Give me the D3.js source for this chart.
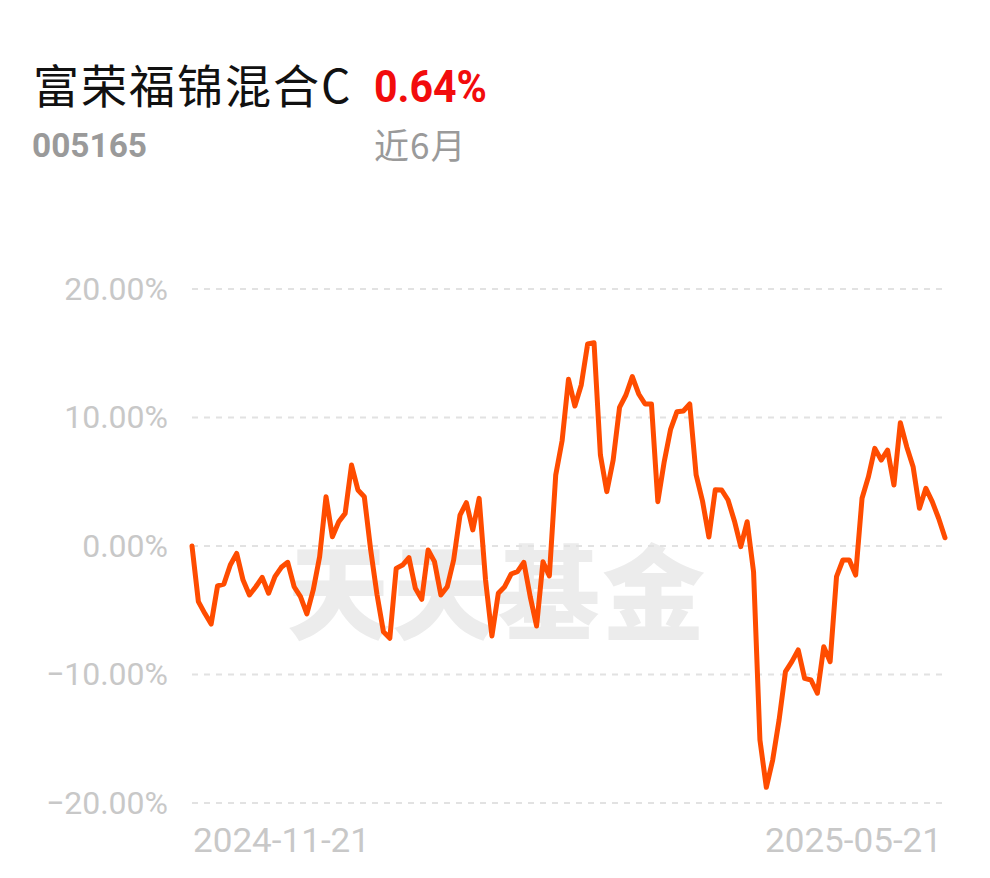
<!DOCTYPE html>
<html><head><meta charset="utf-8">
<script src="https://cdn.jsdelivr.net/npm/d3@7"></script>
<style>
html,body{margin:0;padding:0;background:#fff;}
svg{display:block;}
</style></head>
<body>
<svg id="c" width="990" height="878"></svg>
<script>
const fundName = "富荣福锦混合C";
const fundCode = "005165";
const periodReturn = "0.64%";
const periodLabel = "近6月";
const watermark = "天天基金";
const yTicks = [20, 10, 0, -10, -20];
const xTickLabels = ["2024-11-21", "2025-05-21"];
const returns = [
  0, -4.33, -5.24, -6.07, -3.11, -2.96, -1.48, -0.57, -2.65, -3.81,
  -3.17, -2.44, -3.68, -2.39, -1.66, -1.27, -3.17, -3.94, -5.29, -3.42,
  -0.83, 3.84, 0.72, 1.89, 2.54, 6.30, 4.36, 3.84, -0.3, -3.8,
  -6.67, -7.18, -1.74, -1.48, -0.91, -3.29, -4.15, -0.31, -1.22, -3.81,
  -3.17, -1.09, 2.41, 3.37, 1.25, 3.71, -2.65, -7.0, -3.68, -3.17,
  -2.18, -2.0, -1.27, -3.94, -6.23, -1.22, -2.33, 5.53, 8.2, 12.97,
  10.89, 12.53, 15.72, 15.82, 7.08, 4.23, 6.69, 10.79, 11.75, 13.18,
  11.83, 11.05, 11.05, 3.45, 6.56, 9.08, 10.45, 10.51, 11.05, 5.53,
  3.5, 0.7, 4.38, 4.36, 3.58, 1.95, -0.05, 1.89, -2.0, -15.1,
  -18.78, -16.65, -13.54, -9.78, -9.0, -8.09, -10.3, -10.43, -11.46, -7.84,
  -9.0, -2.39, -1.09, -1.09, -2.26, 3.71, 5.39, 7.6, 6.69, 7.47,
  4.75, 9.6, 7.73, 6.17, 2.93, 4.49, 3.45, 2.16, 0.64
];

(function () {
const svg = d3.select("#c");
const pL = 192, pR = 945, pT = 289, pB = 803;
const x = d3.scaleLinear().domain([0, returns.length - 1]).range([pL, pR]);
const y = d3.scaleLinear().domain([-20, 20]).range([pB, pT]);

// Header
svg.append("text").attr("x", 33).attr("y", 103)
  .attr("font-family", "'Noto Sans CJK SC', sans-serif").attr("font-size", 46)
  .attr("letter-spacing", 2)
  .attr("fill", "#111").text(fundName);
svg.append("text").attr("x", 374).attr("y", 102)
  .attr("font-family", "Roboto, sans-serif").attr("font-weight", 700).attr("font-size", 44)
  .attr("textLength", 113).attr("lengthAdjust", "spacingAndGlyphs")
  .attr("fill", "#f20c0c").text(periodReturn);
svg.append("text").attr("x", 32).attr("y", 157)
  .attr("font-family", "Roboto, sans-serif").attr("font-weight", 700).attr("font-size", 33)
  .attr("textLength", 115).attr("lengthAdjust", "spacingAndGlyphs")
  .attr("fill", "#9a9a9a").text(fundCode);
svg.append("text").attr("x", 374).attr("y", 159)
  .attr("font-family", "'Noto Sans CJK SC', sans-serif").attr("font-size", 35)
  .attr("letter-spacing", 1)
  .attr("fill", "#9a9a9a").text(periodLabel);

// Watermark
svg.append("text").attr("x", 497).attr("y", 632)
  .attr("text-anchor", "middle")
  .attr("font-family", "'Noto Sans CJK SC', sans-serif").attr("font-weight", 900)
  .attr("font-size", 103).attr("letter-spacing", 2)
  .attr("fill", "#ececec").text(watermark);

// Grid
svg.append("g").selectAll("line").data(yTicks).join("line")
  .attr("x1", pL).attr("x2", pR + 1)
  .attr("y1", d => y(d)).attr("y2", d => y(d))
  .attr("stroke", "#e2e2e2").attr("stroke-width", 2)
  .attr("stroke-dasharray", "6,6");

// Y axis labels
const yAxis = d3.axisLeft(y).tickValues(yTicks).tickSize(0).tickPadding(24)
  .tickFormat(d => d3.format(".2f")(d) + "%");
const gy = svg.append("g").attr("transform", `translate(${pL},0)`).call(yAxis);
gy.select(".domain").remove();
gy.selectAll("text").attr("font-family", "Roboto, sans-serif").attr("font-size", 32)
  .attr("fill", "#c8c8c8");

// X labels
const xTicks = [0, returns.length - 1];
svg.append("g").selectAll("text").data(xTicks).join("text")
  .attr("x", (d, i) => i === 0 ? x(d) + 1 : x(d) - 3)
  .attr("y", 852)
  .attr("text-anchor", (d, i) => i === 0 ? "start" : "end")
  .attr("font-family", "Roboto, sans-serif").attr("font-size", 34)
  .attr("textLength", 177).attr("lengthAdjust", "spacingAndGlyphs")
  .attr("fill", "#c8c8c8")
  .text((d, i) => xTickLabels[i]);

// Line
const line = d3.line().x((d, i) => x(i)).y(d => y(d));
svg.append("path").datum(returns)
  .attr("d", line).attr("fill", "none")
  .attr("stroke", "#ff4c00").attr("stroke-width", 5)
  .attr("stroke-linejoin", "round").attr("stroke-linecap", "round");
})();
</script>
</body></html>
